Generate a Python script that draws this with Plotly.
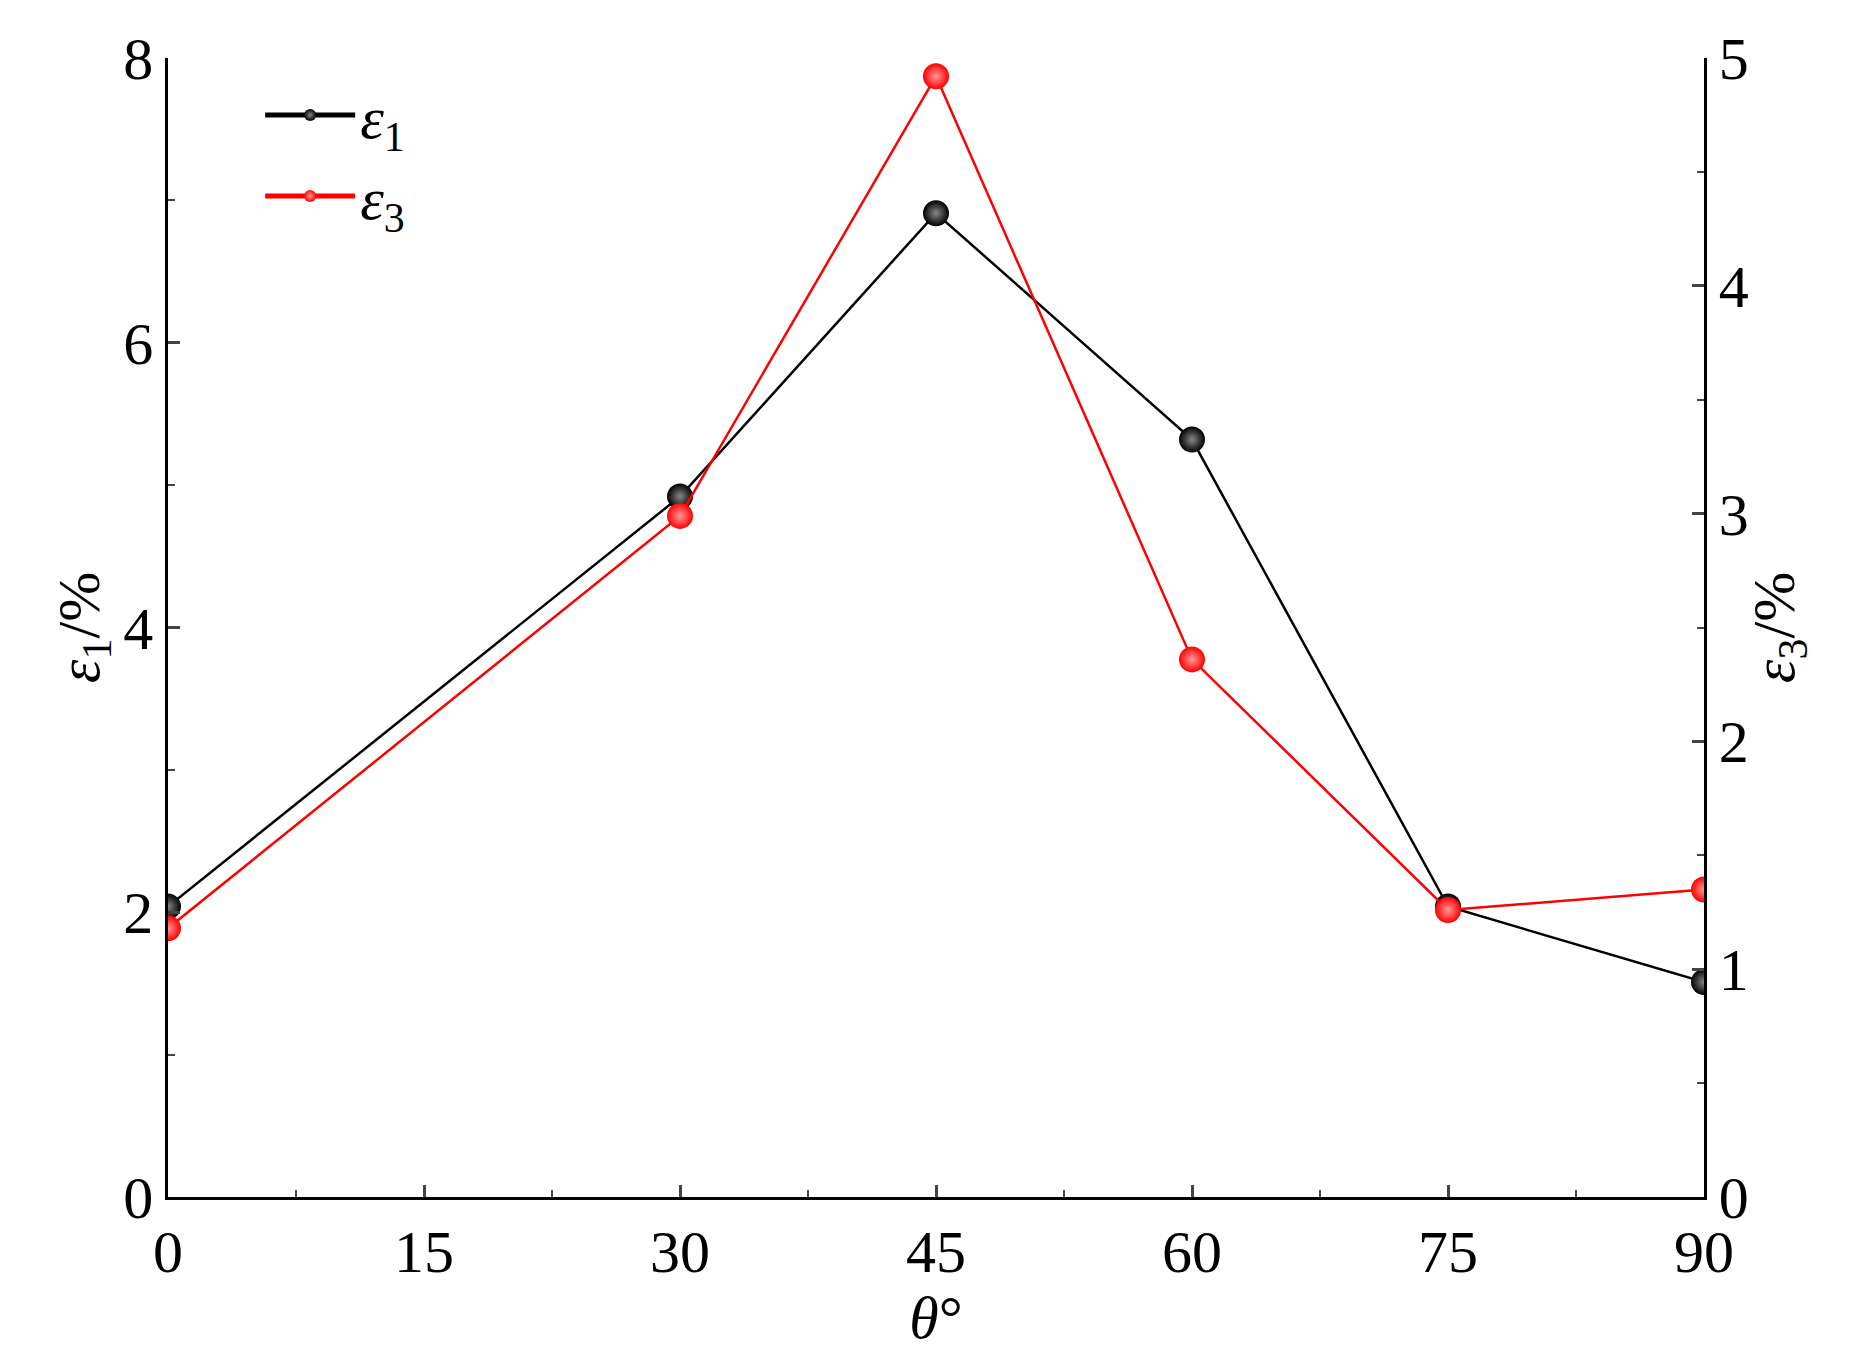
import plotly.graph_objects as go

theta = [0, 30, 45, 60, 75, 90]
eps1 = [2.04, 4.92, 6.91, 5.32, 2.04, 1.51]
eps3 = [1.18, 2.99, 4.92, 2.36, 1.26, 1.35]
xticks = [0, 15, 30, 45, 60, 75, 90]

font = dict(family="Liberation Serif", size=60, color="black")
fig = go.Figure()
fig.add_trace(go.Scatter(x=theta, y=eps1, name="<i>ε</i><sub>1</sub>", mode="lines+markers",
    line=dict(color="black", width=2.5),
    marker=dict(size=26, color="black", gradient=dict(type="radial", color="#888888"), line=dict(width=0))))
fig.add_trace(go.Scatter(x=theta, y=eps3, name="<i>ε</i><sub>3</sub>", mode="lines+markers", yaxis="y2",
    line=dict(color="red", width=2.5),
    marker=dict(size=26, color="red", gradient=dict(type="radial", color="#ff9999"), line=dict(width=0))))

ax = dict(showline=True, linecolor="black", linewidth=2.5, ticks="inside", ticklen=12, tickwidth=2.5,
          showgrid=False, zeroline=False, tickfont=font)
fig.update_layout(
    width=1859, height=1351, plot_bgcolor="white", paper_bgcolor="white", font=font,
    margin=dict(l=160, r=163, t=50, b=162),
    xaxis=dict(ax, range=[0, 90], tickvals=xticks,
               minor=dict(dtick=7.5, ticks="inside", ticklen=7, tickwidth=2, tick0=0),
               title=dict(text="<i>θ</i>°", font=font, standoff=0)),
    yaxis=dict(ax, range=[0, 8], dtick=2,
               minor=dict(dtick=1, ticks="inside", ticklen=7, tickwidth=2),
               title=dict(text="<i>ε</i><sub>1</sub>/%", font=font, standoff=5)),
    yaxis2=dict(ax, range=[0, 5], dtick=1, overlaying="y", side="right",
                minor=dict(dtick=0.5, ticks="inside", ticklen=7, tickwidth=2),
                title=dict(text="<i>ε</i><sub>3</sub>/%", font=font, standoff=5)),
    legend=dict(x=0.06, y=0.99, xanchor="left", yanchor="top", bgcolor="rgba(0,0,0,0)",
                font=font, itemwidth=90, itemsizing="constant", tracegroupgap=25),
    showlegend=True,
)
fig.write_html("out.html")
